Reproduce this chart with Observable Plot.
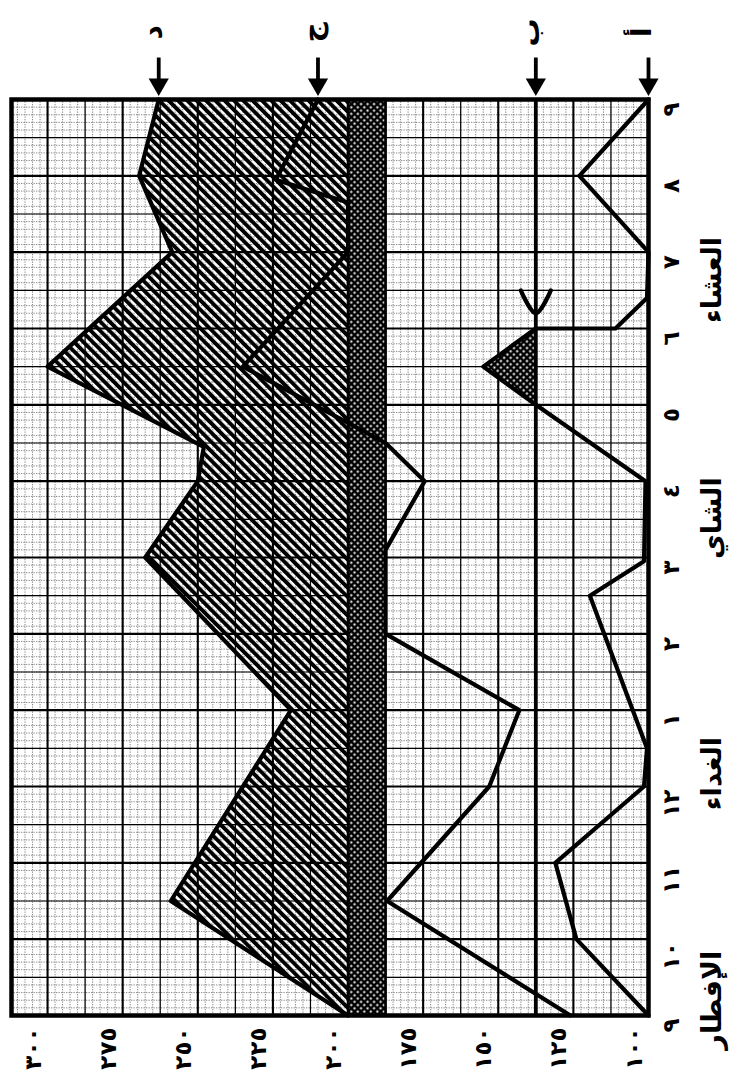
<!DOCTYPE html>
<html>
<head>
<meta charset="utf-8">
<script src="https://cdn.jsdelivr.net/npm/d3@7"></script>
<script src="https://cdn.jsdelivr.net/npm/@observablehq/plot@0.6"></script>
<style>
  html, body { margin: 0; padding: 0; background: #fff; }
  svg { display: block; }
</style>
</head>
<body>
<div id="chart"></div>
<script>
// ---- ticks & labels ----
const hours = [0, 1, 2, 3, 4, 5, 6, 7, 8, 9, 10, 11, 12];          // hours after 9 a.m.
const hourLabels = ["٩", "١٠", "١١", "١٢", "١", "٢", "٣", "٤", "٥", "٦", "٧", "٨", "٩"];
const valueTicks = [100, 125, 150, 175, 200, 225, 250, 275, 300];
const valueLabels = ["١٠٠", "١٢٥", "١٥٠", "١٧٥", "٢٠٠", "٢٢٥", "٢٥٠", "٢٧٥", "٣٠٠"];
const meals = ["الإفطار", "الغداء", "الشاي", "العشاء"];
const mealTimes = [0.85, 3.65, 7.05, 10.2];
const seriesNames = ["د", "ج", "ب", "أ"];

// ---- series (time in hours after 9 a.m., value) ----
const timeA = [0, 1.5, 4, 6, 7, 7.45, 8.5, 10, 11, 12];
const valA  = [200, 259, 219, 267.5, 250, 248, 300, 258.5, 269.5, 263];

const timeB = [0, 1.5, 3, 4, 5, 6.1, 7, 7.5, 8.5, 10, 10.65, 10.95, 12];
const valB  = [126, 187, 153, 143, 187.5, 187.5, 174.5, 187.5, 235, 200, 200, 224, 210];

const timeC = [0, 1, 2, 3, 3.5, 5.5, 5.95, 7, 8, 8.5, 9, 9, 9.4, 10, 11, 12];
const valC  = [100, 124, 131, 101.5, 100.5, 119.5, 101.5, 101, 137.5, 155, 137.5, 111, 100.5, 100, 123, 100];

const levelD = 137.5;
const bandLow = 187.5, bandHigh = 200;

// arrowhead drawn on line ب
const markValues = [142.5, 137.5, 132.5];
const markTimes  = [9.5, 9.2, 9.5];

const A = timeA.map((t, i) => ({t, v: valA[i]}));
const B = timeB.map((t, i) => ({t, v: valB[i]}));
const C = timeC.map((t, i) => ({t, v: valC[i]}));
const tri = C.slice(8, 11);               // part of أ above line ب
const mark = markTimes.map((t, i) => ({t, v: markValues[i]}));
const tops = [
  {name: seriesNames[0], v: valA[valA.length - 1]},
  {name: seriesNames[1], v: valB[valB.length - 1]},
  {name: seriesNames[2], v: levelD},
  {name: seriesNames[3], v: valC[valC.length - 1]}
];

const defs = () => {
  const d = d3.create("svg:defs");
  const p1 = d.append("pattern").attr("id", "diag").attr("width", 6.6).attr("height", 6.6)
    .attr("patternUnits", "userSpaceOnUse").attr("patternTransform", "rotate(-45)");
  p1.append("rect").attr("x", 0).attr("y", 0).attr("width", 3.9).attr("height", 6.6).attr("fill", "#000");
  const p2 = d.append("pattern").attr("id", "cross").attr("width", 4.6).attr("height", 4.6)
    .attr("patternUnits", "userSpaceOnUse").attr("patternTransform", "rotate(45)");
  p2.append("rect").attr("width", 4.6).attr("height", 4.6).attr("fill", "#000");
  p2.append("rect").attr("x", 1.3).attr("y", 1.3).attr("width", 2).attr("height", 2).attr("fill", "#fff");
  return d.node();
};

const font = "DejaVu Sans";

const chart = Plot.plot({
  width: 742,
  height: 1080,
  marginLeft: 11,
  marginRight: 94,
  marginTop: 99,
  marginBottom: 65,
  style: {background: "#fff", fontFamily: font},
  x: {domain: [312, 100], axis: null},
  y: {domain: [0, 12], axis: null},
  marks: [
    defs,
    // graph paper
    Plot.ruleX(d3.range(100, 312, 2.5), {stroke: "#555", strokeWidth: 0.7, strokeDasharray: "1.3 1.2"}),
    Plot.ruleY(d3.range(0, 12.001, 0.1), {stroke: "#555", strokeWidth: 0.7, strokeDasharray: "1.3 1.2"}),
    Plot.ruleX(d3.range(112.5, 312, 25), {stroke: "#000", strokeWidth: 1.2}),
    Plot.ruleY(d3.range(0.5, 12, 1), {stroke: "#000", strokeWidth: 1.2}),
    Plot.ruleX(d3.range(100, 312, 25), {stroke: "#000", strokeWidth: 2.1}),
    Plot.ruleY(hours, {stroke: "#000", strokeWidth: 2.1}),
    // shaded regions
    Plot.areaX(A, {y: "t", x1: bandHigh, x2: "v", fill: "url(#diag)"}),
    Plot.rect([0], {x1: bandLow, x2: bandHigh, y1: 0, y2: 12, fill: "url(#cross)"}),
    Plot.areaX(tri, {y: "t", x1: levelD, x2: "v", fill: "url(#cross)"}),
    Plot.ruleX([bandLow, bandHigh], {y1: 0, y2: 12, stroke: "#000", strokeWidth: 2.6}),
    // lines
    Plot.line(A, {x: "v", y: "t", stroke: "#000", strokeWidth: 4.2}),
    Plot.line(B, {x: "v", y: "t", stroke: "#000", strokeWidth: 4.2}),
    Plot.line(C, {x: "v", y: "t", stroke: "#000", strokeWidth: 4.2}),
    Plot.ruleX([levelD], {y1: 0, y2: 12, stroke: "#000", strokeWidth: 3.8}),
    Plot.line(mark, {x: "v", y: "t", stroke: "#000", strokeWidth: 4.2, curve: "catmull-rom"}),
    Plot.frame({stroke: "#000", strokeWidth: 4.5}),
    // series arrows and letters
    Plot.link(tops, {x1: "v", x2: "v", y1: 12.55, y2: 12.2, stroke: "#000", strokeWidth: 3.8}),
    Plot.dot(tops, {x: "v", y: 12.2, symbol: "triangle", rotate: 180, r: 7.5, fill: "#000", stroke: "none"}),
    Plot.text(tops, {x: "v", y: 12.88, text: "name", rotate: -90, dx: -6, fontSize: 28, fontWeight: "bold", fontFamily: font}),
    // value labels (bottom)
    Plot.text(valueTicks, {x: d => d, frameAnchor: "bottom", dy: 12, dx: -7, text: (d, i) => valueLabels[i],
      rotate: -90, textAnchor: "end", fontSize: 23, fontWeight: "bold", fontFamily: font}),
    // hour labels (right)
    Plot.text(hours, {y: d => d, frameAnchor: "right", dx: 23, dy: 3, text: (d, i) => hourLabels[i],
      rotate: -90, fontSize: 23, fontWeight: "bold", fontFamily: font}),
    // meal labels
    Plot.text(mealTimes, {y: d => d, frameAnchor: "right", dx: 64, text: (d, i) => meals[i],
      rotate: -90, fontSize: 27, fontWeight: "bold", fontFamily: font})
  ]
});

document.getElementById("chart").appendChild(chart);
</script>
</body>
</html>
